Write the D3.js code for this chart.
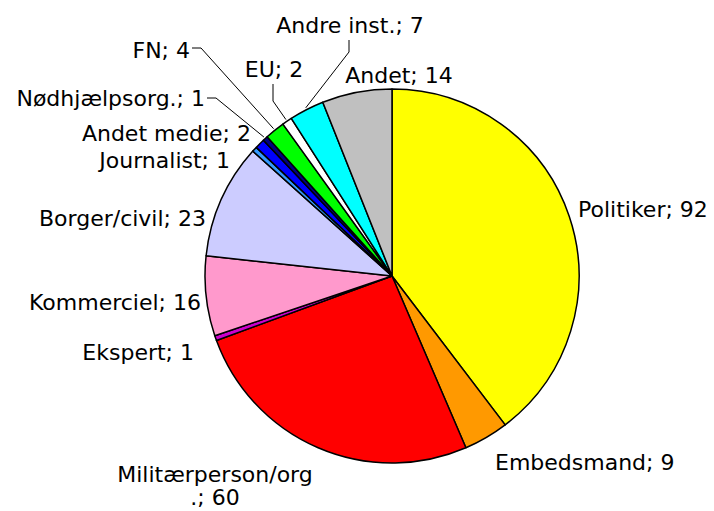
<!DOCTYPE html>
<html>
<head>
<meta charset="utf-8">
<style>
  body { margin: 0; background: #fff; }
  svg text { font-family: "DejaVu Sans", Verdana, sans-serif; font-size: 22px; fill: #000; }
</style>
</head>
<body>
<div id="chart"></div>
<script src="https://d3js.org/d3.v7.min.js"></script>
<script>
// slice categories and counts, clockwise from 12 o'clock
const categories = ["Politiker", "Embedsmand", "Militærperson/org.", "Ekspert", "Kommerciel",
  "Borger/civil", "Journalist", "Andet medie", "Nødhjælpsorg.", "FN", "EU", "Andre inst.", "Andet"];
const values = [92, 9, 60, 1, 16, 23, 1, 2, 1, 4, 2, 7, 14];
const colors = ["#FFFF00", "#FF9900", "#FF0000", "#CC00CC", "#FF99CC", "#CCCCFF",
  "#3399FF", "#0000FF", "#000080", "#00FF00", "#FFFFFF", "#00FFFF", "#C0C0C0"];

// label placement: [x, baseline y, anchor, leader bend points]
const labelLayout = {
  "Politiker": [578, 217, "start"],
  "Embedsmand": [495, 470, "start"],
  "Militærperson/org.": [215, 482, "middle"],
  "Ekspert": [194, 360, "end"],
  "Kommerciel": [201, 310, "end"],
  "Borger/civil": [206, 226, "end"],
  "Journalist": [230, 168, "end"],
  "Andet medie": [251, 141, "end"],
  "Nødhjælpsorg.": [205, 106, "end", [[207, 98], [216, 98]]],
  "FN": [190, 58, "end", [[192, 48], [201, 48]]],
  "EU": [274, 77, "middle", [[273, 84], [273, 101]]],
  "Andre inst.": [350, 33, "middle", [[349, 40], [349, 52]]],
  "Andet": [399, 83, "middle"]
};

const width = 714, height = 511;
const cx = 392, cy = 276, radius = 187;

const svg = d3.select("#chart").append("svg")
  .attr("width", width).attr("height", height);

const g = svg.append("g").attr("transform", `translate(${cx},${cy})`);

const data = categories.map((c, i) => ({ name: c, value: values[i], color: colors[i] }));

const pie = d3.pie().sort(null).value(d => d.value);
const arc = d3.arc().innerRadius(0).outerRadius(radius);
const arcs = pie(data);

g.selectAll("path")
  .data(arcs)
  .enter().append("path")
  .attr("d", arc)
  .attr("fill", d => d.data.color)
  .attr("stroke", "#000")
  .attr("stroke-width", 1.5)
  .attr("stroke-linejoin", "round");

// labels
arcs.forEach(a => {
  const lay = labelLayout[a.data.name];
  const txt = svg.append("text")
    .attr("x", lay[0]).attr("y", lay[1])
    .attr("text-anchor", lay[2]);
  if (a.data.name === "Militærperson/org.") {
    txt.append("tspan").attr("x", lay[0]).text("Militærperson/org");
    txt.append("tspan").attr("x", lay[0]).attr("dy", 23).text(".; " + a.data.value);
  } else {
    txt.text(a.data.name + "; " + a.data.value);
  }
  if (lay[3]) {
    // leader line ending at the slice edge, mid angle
    const mid = (a.startAngle + a.endAngle) / 2;
    const end = [cx + Math.sin(mid) * (radius + 2), cy - Math.cos(mid) * (radius + 2)];
    const pts = lay[3].concat([end]);
    svg.append("path")
      .attr("d", d3.line()(pts))
      .attr("fill", "none")
      .attr("stroke", "#000")
      .attr("stroke-width", 1);
  }
});
</script>
</body>
</html>
